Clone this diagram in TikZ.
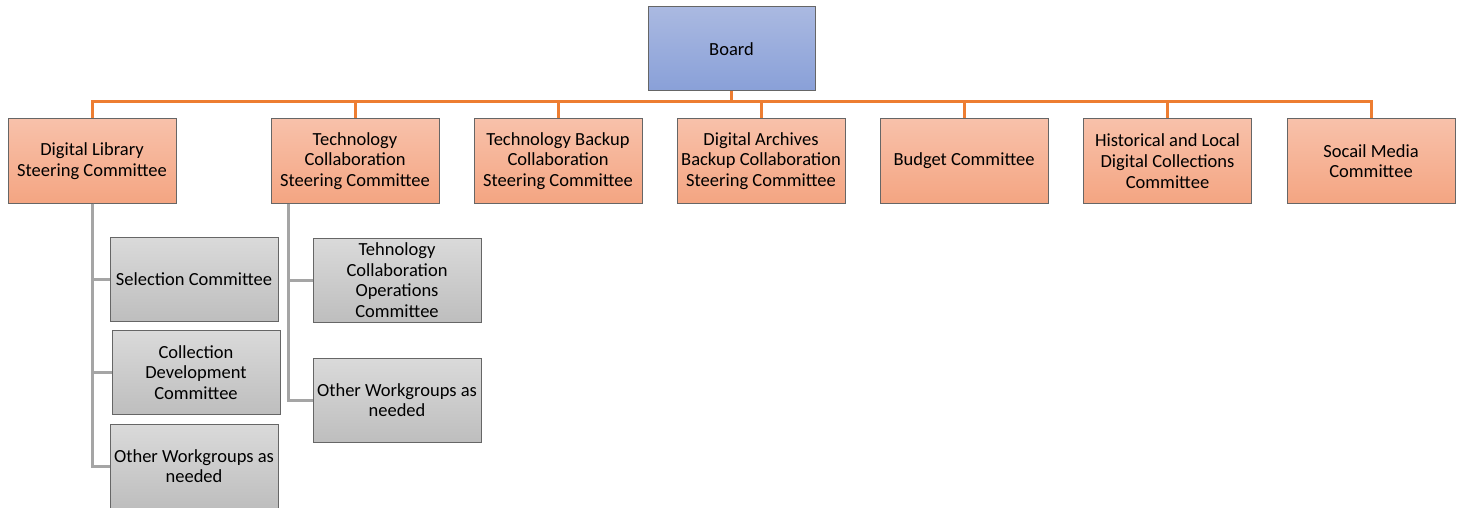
\documentclass[tikz,border=0pt]{standalone}
\usepackage{fontspec}
\setmainfont{Carlito}
\usepackage{tikz}
\usetikzlibrary{positioning}
\definecolor{lineorange}{HTML}{ED7D31}
\definecolor{linegray}{HTML}{A5A5A5}

\begin{document}
\begin{tikzpicture}[x=1pt, y=-1pt,
    box/.style={draw=gray!80!black, line width=1pt, minimum width=168pt, minimum height=84pt,
        align=center, font=\fontsize{18.5}{20.7}\selectfont, inner sep=0pt},
    board/.style={box, top color={rgb,255:red,170;green,185;blue,225},
        bottom color={rgb,255:red,137;green,160;blue,216}, minimum width=167pt},
    comm/.style={box, top color={rgb,255:red,248;green,193;blue,170},
        bottom color={rgb,255:red,244;green,165;blue,130}},
    sub/.style={box, top color={rgb,255:red,218;green,218;blue,218},
        bottom color={rgb,255:red,190;green,190;blue,190}},
    orange line/.style={draw=lineorange, line width=3pt},
    gray line/.style={draw=linegray, line width=3pt}]
\useasboundingbox (0,0) rectangle (1458,508);
\node[board](board) at (731.5,49) {Board};
\node[comm](dl) at (92,161) {Digital Library\\Steering Committee};
\node[comm](tc) at (355,161) {Technology\\Collaboration\\Steering Committee};
\node[comm](tb) at (558,161) {Technology Backup\\Collaboration\\Steering Committee};
\node[comm](da) at (761,161) {Digital Archives\\Backup Collaboration\\Steering Committee};
\node[comm](bu) at (964,161) {Budget Committee};
\node[comm](hl) at (1167.5,161) {Historical and Local\\Digital Collections\\Committee};
\node[comm](sm) at (1371,161) {Socail Media\\Committee};
\node[sub](sel) at (194,279.5) {Selection Committee};
\node[sub](cd) at (196,372.5) {Collection\\Development\\Committee};
\node[sub](ow1) at (194,466) {Other Workgroups as\\needed};
\node[sub](tco) at (397,280) {Tehnology\\Collaboration\\Operations\\Committee};
\node[sub](ow2) at (397,400) {Other Workgroups as\\needed};
% top level
\coordinate (bus) at (731.5,102);
\draw[orange line](board.south)--(bus);
\foreach \c in {dl,tc,tb,da,bu,hl,sm}
{
    \draw[orange line, line join=miter](bus)-|(\c.north);
}
% sub committees
\foreach \c in {sel,cd,ow1}
{
    \draw[gray line](dl.south)|-(\c.west);
}
\draw[gray line]([xshift=-67pt]tc.south)|-(tco.west);
\draw[gray line]([xshift=-67pt]tc.south)|-(ow2.west);
\end{tikzpicture}
\end{document}
